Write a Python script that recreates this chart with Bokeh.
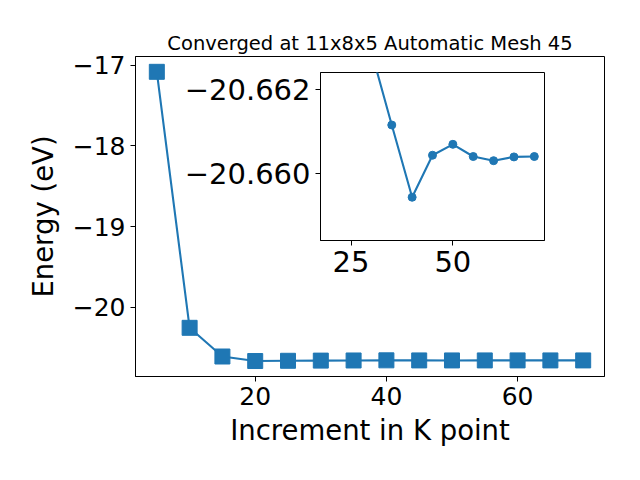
from bokeh.plotting import figure
from bokeh.models import Range1d, FixedTicker, CustomJSTickFormatter, GridBox
from bokeh.embed import file_html
from bokeh.resources import INLINE

# ---- data ----
kpoints = [5, 10, 15, 20, 25, 30, 35, 40, 45, 50, 55, 60, 65, 70]
energy = [-17.08, -20.256, -20.612, -20.668, -20.665, -20.6629, -20.66115,
          -20.65943, -20.66043, -20.66069, -20.6604, -20.6603, -20.66039, -20.6604]
inset_start = 3  # inset shows k-points from 20 onwards
title_text = "Converged at 11x8x5 Automatic Mesh 45"
x_label = "Increment in K point"
y_label = "Energy (eV)"
main_xticks = [20, 40, 60]
main_yticks = [-20, -19, -18, -17]
inset_xticks = [25, 50]
inset_yticks = [-20.662, -20.660]

BLUE = "#1f77b4"
FONT = "DejaVu Sans"

def fmt(decimals):
    return CustomJSTickFormatter(code=f"""
        const s = Math.abs(tick).toFixed({decimals});
        return (tick < 0 ? "\\u2212" : "") + s;
    """)

def style_axes(p, tick_size, standoff):
    for ax in (p.xaxis[0], p.yaxis[0]):
        ax.major_label_text_font = FONT
        ax.major_label_text_font_size = tick_size
        ax.major_label_text_color = "black"
        ax.axis_label_text_font = FONT
        ax.axis_label_text_font_size = "27.5px"
        ax.axis_label_text_font_style = "normal"
        ax.axis_label_text_color = "black"
        ax.major_tick_in = 0
        ax.major_tick_out = 5
        ax.major_tick_line_color = "black"
        ax.major_tick_line_width = 1
        ax.minor_tick_line_color = None
        ax.axis_line_color = "black"
        ax.axis_line_width = 1
        ax.major_label_standoff = standoff
    p.xgrid.grid_line_color = None
    p.ygrid.grid_line_color = None
    p.outline_line_color = "black"
    p.outline_line_width = 1
    p.outline_line_alpha = 1

# ---- main figure ----
p = figure(width=624, height=464, output_backend="svg", toolbar_location=None,
           x_range=Range1d(1.75, 73.25), y_range=Range1d(-20.86, -16.89),
           min_border_left=135, min_border_right=20, min_border_top=56, min_border_bottom=88,
           title=title_text, frame_align=False)
p.title.text_font = FONT
p.title.text_font_size = "19.5px"
p.title.text_font_style = "normal"
p.title.text_color = "black"
p.title.align = "center"
p.title.standoff = 4
p.line(kpoints, energy, line_color=BLUE, line_width=2.1)
p.scatter(kpoints, energy, marker="square", size=15, fill_color=BLUE, line_color=BLUE)
p.xaxis.axis_label = x_label
p.yaxis.axis_label = y_label
p.xaxis.ticker = FixedTicker(ticks=main_xticks)
p.yaxis.ticker = FixedTicker(ticks=main_yticks)
p.xaxis.formatter = fmt(0)
p.yaxis.formatter = fmt(0)
style_axes(p, "25px", 5)
p.xaxis.axis_label_standoff = 6
p.yaxis.axis_label_standoff = 11

# ---- inset figure ----
ins = figure(width=384, height=225, output_backend="svg", toolbar_location=None,
             x_range=Range1d(17.5, 72.5), y_range=Range1d(-20.6584, -20.6624),
             min_border_left=150, min_border_right=10, min_border_top=12, min_border_bottom=45,
             margin=(60, 0, 0, 170), frame_align=False)
ins.border_fill_alpha = 0
ins.background_fill_color = "white"
ins.line(kpoints[inset_start:], energy[inset_start:], line_color=BLUE, line_width=2.1)
ins.scatter(kpoints[inset_start:], energy[inset_start:], marker="circle", size=8,
            fill_color=BLUE, line_color=BLUE)
ins.xaxis.ticker = FixedTicker(ticks=inset_xticks)
ins.yaxis.ticker = FixedTicker(ticks=inset_yticks)
ins.xaxis.formatter = fmt(0)
ins.yaxis.formatter = fmt(3)
style_axes(ins, "29px", 5)

layout = GridBox(children=[(p, 0, 0), (ins, 0, 0)])

open("out.html", "w").write(file_html(layout, INLINE))
